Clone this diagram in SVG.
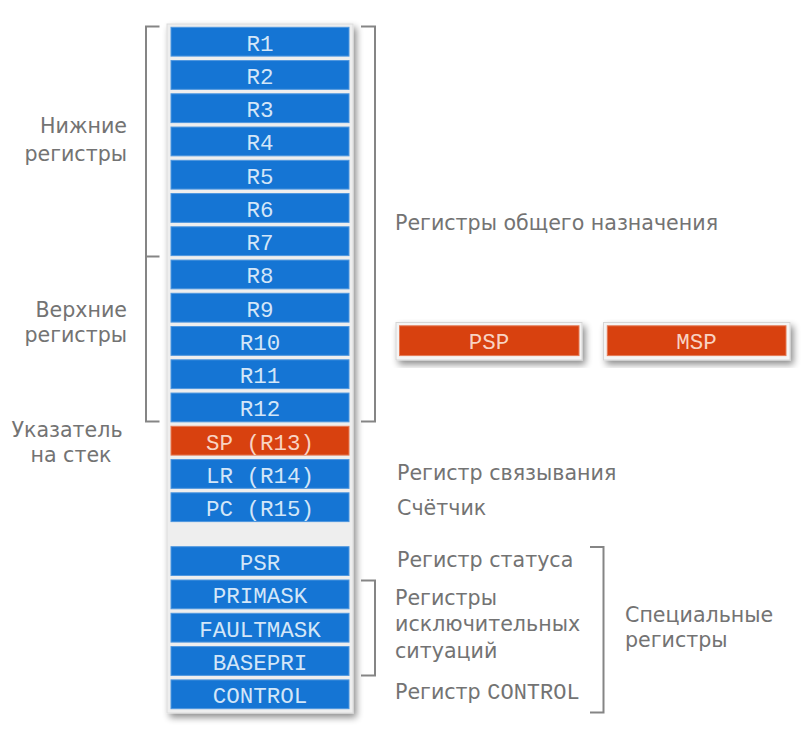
<svg xmlns="http://www.w3.org/2000/svg" width="811" height="749" viewBox="0 0 811 749">
<defs>
<filter id="sh" x="-20%" y="-20%" width="140%" height="140%">
<feGaussianBlur in="SourceAlpha" stdDeviation="3.5"/>
<feOffset dx="3" dy="4" result="b"/>
<feComponentTransfer><feFuncA type="linear" slope="0.45"/></feComponentTransfer>
<feMerge><feMergeNode/><feMergeNode in="SourceGraphic"/></feMerge>
</filter>
<style>
.reg{fill:#1575d4;stroke:#4f97df;stroke-width:1}
.org{fill:#d8410f;stroke:#e57a55;stroke-width:1}
.rt{font-family:"Liberation Mono",monospace;font-size:22.5px;fill:#d3e6f8;text-anchor:middle}
.ot{font-family:"Liberation Mono",monospace;font-size:22.5px;fill:#f8d3c3;text-anchor:middle}
.lb{font-family:"DejaVu Sans",sans-serif;font-size:20.6px;fill:#737373}
.br{fill:none;stroke:#858585;stroke-width:2}
</style>
</defs>
<rect width="811" height="749" fill="#ffffff"/>
<rect x="167" y="24" width="186" height="689" fill="#eeeeee" stroke="#dcdcdc" stroke-width="1" filter="url(#sh)"/>

<g id="R1"><rect class="reg" x="171" y="27.3" width="178" height="28.8"/><text class="rt" x="260" y="50.5">R1</text></g>
<g id="R2"><rect class="reg" x="171" y="60.55" width="178" height="28.8"/><text class="rt" x="260" y="83.75">R2</text></g>
<g id="R3"><rect class="reg" x="171" y="93.8" width="178" height="28.8"/><text class="rt" x="260" y="117">R3</text></g>
<g id="R4"><rect class="reg" x="171" y="127.05" width="178" height="28.8"/><text class="rt" x="260" y="150.25">R4</text></g>
<g id="R5"><rect class="reg" x="171" y="160.3" width="178" height="28.8"/><text class="rt" x="260" y="183.5">R5</text></g>
<g id="R6"><rect class="reg" x="171" y="193.55" width="178" height="28.8"/><text class="rt" x="260" y="216.75">R6</text></g>
<g id="R7"><rect class="reg" x="171" y="226.8" width="178" height="28.8"/><text class="rt" x="260" y="250">R7</text></g>
<g id="R8"><rect class="reg" x="171" y="260.05" width="178" height="28.8"/><text class="rt" x="260" y="283.25">R8</text></g>
<g id="R9"><rect class="reg" x="171" y="293.3" width="178" height="28.8"/><text class="rt" x="260" y="316.5">R9</text></g>
<g id="R10"><rect class="reg" x="171" y="326.55" width="178" height="28.8"/><text class="rt" x="260" y="349.75">R10</text></g>
<g id="R11"><rect class="reg" x="171" y="359.8" width="178" height="28.8"/><text class="rt" x="260" y="383">R11</text></g>
<g id="R12"><rect class="reg" x="171" y="393.05" width="178" height="28.8"/><text class="rt" x="260" y="416.25">R12</text></g>
<g id="SP"><rect class="org" x="171" y="426.3" width="178" height="28.8"/><text class="ot" x="260" y="449.5">SP (R13)</text></g>
<g id="LR"><rect class="reg" x="171" y="459.55" width="178" height="28.8"/><text class="rt" x="260" y="482.75">LR (R14)</text></g>
<g id="PC"><rect class="reg" x="171" y="492.8" width="178" height="28.8"/><text class="rt" x="260" y="516">PC (R15)</text></g>

<g id="PSR"><rect class="reg" x="171" y="546.7" width="178" height="28.8"/><text class="rt" x="260" y="569.9">PSR</text></g>
<g id="PRIMASK"><rect class="reg" x="171" y="580" width="178" height="28.8"/><text class="rt" x="260" y="603.2">PRIMASK</text></g>
<g id="FAULTMASK"><rect class="reg" x="171" y="613.3" width="178" height="28.8"/><text class="rt" x="260" y="636.5">FAULTMASK</text></g>
<g id="BASEPRI"><rect class="reg" x="171" y="646.6" width="178" height="28.8"/><text class="rt" x="260" y="669.8">BASEPRI</text></g>
<g id="CONTROL"><rect class="reg" x="171" y="679.9" width="178" height="28.8"/><text class="rt" x="260" y="703.1">CONTROL</text></g>

<g id="PSP"><rect x="396" y="322.5" width="186" height="37.5" fill="#f4f4f4" stroke="#d6d6d6" stroke-width="1" filter="url(#sh)"/><rect class="org" x="399.5" y="325.8" width="179.5" height="29.8"/><text class="ot" x="489" y="349.3">PSP</text></g>
<g id="MSP"><rect x="603.5" y="322.5" width="186.5" height="37.5" fill="#f4f4f4" stroke="#d6d6d6" stroke-width="1" filter="url(#sh)"/><rect class="org" x="607.3" y="325.8" width="178.7" height="29.8"/><text class="ot" x="696.5" y="349.3">MSP</text></g>

<g id="connectors">
<path class="br" d="M159.5 26.5 H146 V421.5 H159.5 M146 256.5 H159.5"/>
<path class="br" d="M361 26.5 H375 V421.5 H361"/>
<path class="br" d="M361 580.5 H375 V675.5 H361"/>
<path class="br" d="M590 547 H603.5 V712.5 H590"/>
</g>

<g id="labels">
<text class="lb" x="127" y="133" text-anchor="end">Нижние</text>
<text class="lb" x="127" y="161" text-anchor="end">регистры</text>
<text class="lb" x="127" y="316.5" text-anchor="end">Верхние</text>
<text class="lb" x="127" y="342" text-anchor="end">регистры</text>
<text class="lb" x="67" y="436.5" text-anchor="middle">Указатель</text>
<text class="lb" x="71" y="461.5" text-anchor="middle">на стек</text>
<text class="lb" x="395" y="230">Регистры общего назначения</text>
<text class="lb" x="397" y="480">Регистр связывания</text>
<text class="lb" x="397" y="515">Счётчик</text>
<text class="lb" x="397" y="566.5">Регистр статуса</text>
<text class="lb" x="395" y="605">Регистры</text>
<text class="lb" x="395" y="631">исключительных</text>
<text class="lb" x="395" y="658">ситуаций</text>
<text class="lb" x="395" y="698.5">Регистр <tspan font-family="Liberation Mono, monospace" font-size="22px">CONTROL</tspan></text>
<text class="lb" x="625" y="621.5">Специальные</text>
<text class="lb" x="625" y="647">регистры</text>
</g>
</svg>
